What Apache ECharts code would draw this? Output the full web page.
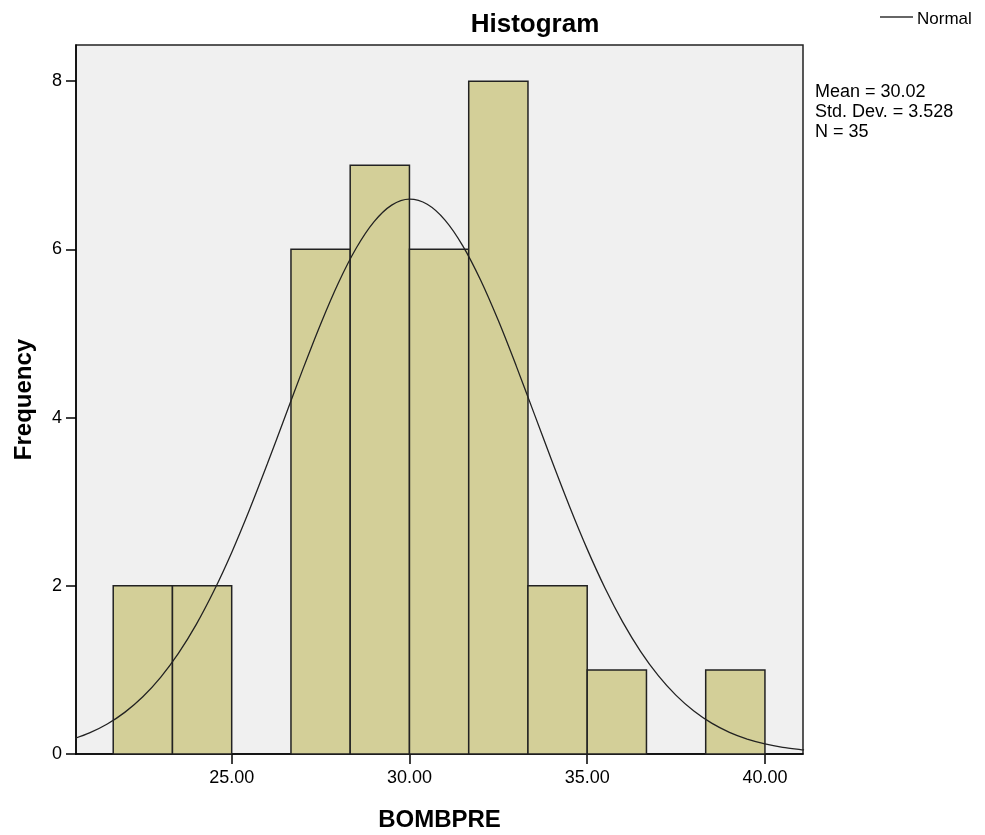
<!DOCTYPE html>
<html><head><meta charset="utf-8">
<script src="https://cdn.jsdelivr.net/npm/echarts@6/dist/echarts.min.js"></script>
<style>html,body{margin:0;padding:0;background:#fff}#c{width:985px;height:835px}</style>
</head><body><div id="c"></div>
<script>
var binStarts = [21.667, 23.333, 25.0, 26.667, 28.333, 30.0, 31.667, 33.333, 35.0, 36.667, 38.333];
var binWidth = 1.6667;
var counts = [2, 2, 0, 6, 7, 6, 8, 2, 1, 0, 1];
var curveX = [20.5, 21, 21.5, 22, 22.5, 23, 23.5, 24, 24.5, 25, 25.5, 26, 26.5, 27, 27.5, 28, 28.5, 29, 29.5, 30, 30.5, 31, 31.5, 32, 32.5, 33, 33.5, 34, 34.5, 35, 35.5, 36, 36.5, 37, 37.5, 38, 38.5, 39, 39.5, 40, 40.5, 41, 41.1];
var curveY = [0.173, 0.251, 0.357, 0.498, 0.680, 0.911, 1.196, 1.538, 1.940, 2.397, 2.904, 3.447, 4.010, 4.573, 5.111, 5.600, 6.013, 6.327, 6.526, 6.597, 6.536, 6.348, 6.042, 5.636, 5.153, 4.618, 4.056, 3.492, 2.946, 2.436, 1.974, 1.568, 1.221, 0.932, 0.697, 0.511, 0.367, 0.258, 0.178, 0.121, 0.080, 0.052, 0.048];
var xTicks = [25, 30, 35, 40];
var yTicks = [0, 2, 4, 6, 8];
var statLines = ['Mean = 30.02', 'Std. Dev. = 3.528', 'N = 35'];
var legendLabel = 'Normal';

var font = 'Liberation Sans, Arial, sans-serif';
var chart = echarts.init(document.getElementById('c'));
var barData = binStarts.map(function (s, i) { return [s, s + binWidth, counts[i]]; }).filter(function (d) { return d[2] > 0; });
var lineData = curveX.map(function (x, i) { return [x, curveY[i]]; });

chart.setOption({
  animation: false,
  backgroundColor: '#fff',
  title: { text: 'Histogram', left: 530, top: 7, textAlign: 'center',
    textStyle: { fontFamily: font, fontSize: 26, fontWeight: 'bold', color: '#000' } },
  grid: { left: 76, right: 182, top: 45, bottom: 81, show: true, backgroundColor: '#F0F0F0',
    borderColor: '#222', borderWidth: 1.5, outerBoundsMode: 'none', containLabel: false },
  xAxis: { type: 'value', min: 20.62, max: 41.07, interval: 5,
    axisLine: { show: true, lineStyle: { color: '#000', width: 1.5 } },
    axisTick: { show: true, length: 10, lineStyle: { color: '#000', width: 1.5 },
      customValues: xTicks },
    axisLabel: { fontFamily: font, fontSize: 18, color: '#000', margin: 15,
      customValues: xTicks, formatter: function (v) { return v.toFixed(2); } },
    splitLine: { show: false },
    name: 'BOMBPRE', nameLocation: 'middle', nameGap: 54,
    nameTextStyle: { fontFamily: font, fontSize: 24, fontWeight: 'bold', color: '#000' } },
  yAxis: { type: 'value', min: 0, max: 8.43,
    axisLine: { show: true, lineStyle: { color: '#000', width: 1.5 } },
    axisTick: { show: true, length: 10, lineStyle: { color: '#000', width: 1.5 }, customValues: yTicks },
    axisLabel: { fontFamily: font, fontSize: 18, color: '#000', margin: 14, customValues: yTicks },
    splitLine: { show: false },
    name: 'Frequency', nameLocation: 'middle', nameGap: 40,
    nameTextStyle: { fontFamily: font, fontSize: 24, fontWeight: 'bold', color: '#000' } },
  graphic: [
    { type: 'text', left: 815, top: 82,
      style: { text: statLines.join('\n'), font: '18px ' + font, fill: '#000', lineHeight: 20 } },
    { type: 'line', shape: { x1: 880, y1: 17, x2: 913, y2: 17 }, style: { stroke: '#333', lineWidth: 1.3 } },
    { type: 'text', x: 917, y: 19,
      style: { text: legendLabel, font: '17px ' + font, fill: '#000', verticalAlign: 'middle' } }
  ],
  series: [{
    type: 'custom', name: 'bars', data: barData, encode: { x: [0, 1], y: 2 }, z: 2,
    renderItem: function (params, api) {
      var p0 = api.coord([api.value(0), api.value(2)]);
      var p1 = api.coord([api.value(1), 0]);
      return { type: 'rect', shape: { x: p0[0], y: p0[1], width: p1[0] - p0[0], height: p1[1] - p0[1] },
        style: { fill: '#D3CF98', stroke: '#222', lineWidth: 1.5 } };
    }
  }, {
    type: 'line', name: 'Normal', data: lineData, smooth: 0.3, symbol: 'none', z: 3,
    lineStyle: { color: '#222', width: 1.3 }, itemStyle: { color: '#222' }
  }]
});
</script></body></html>
